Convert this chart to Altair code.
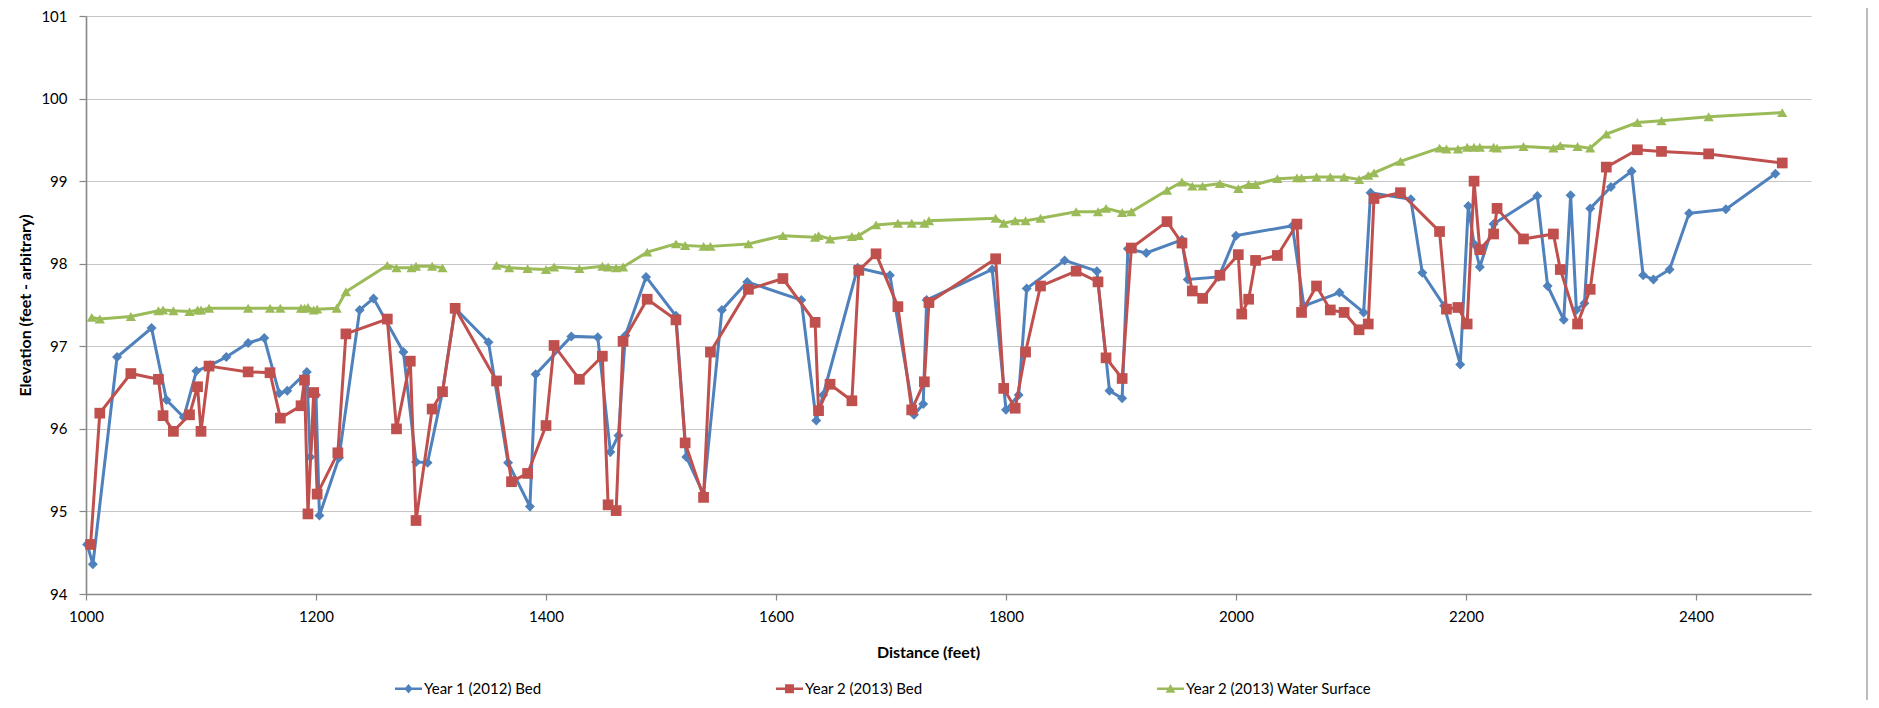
import altair as alt
import pandas as pd

SERIES = ["Year 1 (2012) Bed", "Year 2 (2013) Bed", "Year 2 (2013) Water Surface"]
COLORS = ["#4F81BD", "#C0504D", "#9BBB59"]

# Year 1 (2012) Bed
bed2012_x = [1001, 1006, 1027, 1057, 1070, 1085, 1096, 1108, 1122, 1141, 1155, 1168, 1175, 1192,
             1195, 1200, 1203, 1220, 1238, 1250, 1276, 1287, 1297, 1310, 1321, 1350, 1367, 1386,
             1391, 1422, 1445, 1456, 1463, 1469, 1487, 1513, 1522, 1537, 1553, 1575, 1622, 1635,
             1641, 1671, 1699, 1720, 1728, 1731, 1788, 1800, 1811, 1818, 1851, 1879, 1890, 1901,
             1906, 1922, 1953, 1958, 1985, 2000, 2049, 2059, 2090, 2111, 2117, 2152, 2162, 2181,
             2195, 2202, 2207, 2212, 2224, 2262, 2271, 2285, 2291, 2296, 2303, 2308, 2326, 2344,
             2354, 2363, 2377, 2394, 2426, 2469]
bed2012_y = [94.60, 94.36, 96.87, 97.22, 96.35, 96.14, 96.70, 96.77, 96.87, 97.04, 97.10, 96.43, 96.46, 96.69,
             95.66, 96.41, 94.95, 95.65, 97.44, 97.58, 96.93, 95.60, 95.59, 96.45, 97.46, 97.05, 95.59, 95.06,
             96.66, 97.12, 97.11, 95.72, 95.92, 97.13, 97.84, 97.37, 95.66, 95.21, 97.44, 97.78, 97.56, 96.10,
             96.41, 97.95, 97.86, 96.17, 96.30, 97.56, 97.93, 96.23, 96.41, 97.70, 98.04, 97.91, 96.46, 96.37,
             98.18, 98.13, 98.29, 97.81, 97.84, 98.34, 98.46, 97.49, 97.65, 97.41, 98.86, 98.78, 97.89, 97.49,
             96.78, 98.70, 98.24, 97.96, 98.48, 98.82, 97.73, 97.32, 98.83, 97.44, 97.52, 98.67, 98.93, 99.12,
             97.86, 97.81, 97.93, 98.61, 98.66, 99.09]

# Year 2 (2013) Bed
bed2013_x = [1004, 1012, 1039, 1063, 1067, 1076, 1090, 1097, 1100, 1107, 1141, 1160, 1169, 1187,
             1190, 1193, 1198, 1201, 1219, 1226, 1262, 1270, 1282, 1287, 1301, 1310, 1321, 1357,
             1370, 1384, 1400, 1407, 1429, 1449, 1454, 1461, 1467, 1488, 1513, 1521, 1537, 1543,
             1576, 1606, 1634, 1637, 1647, 1666, 1672, 1687, 1706, 1718, 1729, 1733, 1791, 1798,
             1808, 1817, 1830, 1861, 1880, 1887, 1901, 1909, 1940, 1953, 1962, 1971, 1986, 2002,
             2005, 2011, 2017, 2036, 2053, 2057, 2070, 2082, 2094, 2107, 2115, 2120, 2143, 2177,
             2183, 2193, 2201, 2207, 2212, 2224, 2227, 2250, 2276, 2282, 2297, 2308, 2322, 2349,
             2370, 2411, 2475]
bed2013_y = [94.60, 96.19, 96.67, 96.60, 96.16, 95.97, 96.17, 96.51, 95.97, 96.76, 96.69, 96.68, 96.13, 96.28,
             96.59, 94.97, 96.44, 95.21, 95.71, 97.15, 97.33, 96.00, 96.82, 94.89, 96.24, 96.45, 97.46, 96.58,
             95.36, 95.46, 96.04, 97.01, 96.60, 96.88, 95.08, 95.01, 97.06, 97.57, 97.32, 95.83, 95.17, 96.93,
             97.69, 97.82, 97.29, 96.22, 96.54, 96.34, 97.92, 98.12, 97.48, 96.23, 96.57, 97.53, 98.06, 96.49,
             96.25, 96.93, 97.73, 97.91, 97.78, 96.86, 96.61, 98.19, 98.51, 98.25, 97.67, 97.58, 97.86, 98.11,
             97.39, 97.57, 98.04, 98.10, 98.48, 97.41, 97.73, 97.44, 97.41, 97.20, 97.27, 98.79, 98.86, 98.39,
             97.45, 97.47, 97.27, 99.00, 98.17, 98.36, 98.67, 98.30, 98.36, 97.93, 97.27, 97.69, 99.17, 99.38,
             99.36, 99.33, 99.22]

# Year 2 (2013) Water Surface (two surveyed reaches, gap between them)
water_a_x = [1005, 1012, 1039, 1063, 1067, 1076, 1090, 1097, 1100, 1107, 1141, 1160, 1169, 1187,
             1190, 1193, 1198, 1201, 1218, 1226, 1262, 1270, 1283, 1287, 1301, 1310]
water_a_y = [97.35, 97.33, 97.36, 97.43, 97.44, 97.43, 97.42, 97.44, 97.44, 97.46, 97.46, 97.46, 97.46, 97.46,
             97.46, 97.47, 97.44, 97.45, 97.46, 97.66, 97.98, 97.95, 97.95, 97.97, 97.97, 97.95]
water_b_x = [1357, 1368, 1384, 1400, 1407, 1429, 1449, 1454, 1461, 1467, 1488, 1513, 1521, 1537,
             1543, 1576, 1606, 1634, 1637, 1647, 1666, 1672, 1687, 1706, 1718, 1729, 1733, 1791,
             1798, 1808, 1817, 1830, 1861, 1880, 1887, 1901, 1909, 1940, 1953, 1962, 1971, 1986,
             2002, 2011, 2017, 2036, 2053, 2057, 2070, 2082, 2094, 2107, 2115, 2120, 2143, 2177,
             2183, 2193, 2201, 2207, 2212, 2224, 2227, 2250, 2276, 2282, 2297, 2308, 2322, 2349,
             2370, 2411, 2475]
water_b_y = [97.98, 97.95, 97.94, 97.93, 97.96, 97.94, 97.97, 97.96, 97.95, 97.96, 98.14, 98.24, 98.22, 98.21,
             98.21, 98.24, 98.34, 98.32, 98.34, 98.30, 98.33, 98.34, 98.47, 98.49, 98.49, 98.49, 98.52, 98.55,
             98.49, 98.52, 98.52, 98.55, 98.63, 98.63, 98.67, 98.62, 98.63, 98.89, 98.99, 98.94, 98.94, 98.97,
             98.91, 98.96, 98.96, 99.03, 99.04, 99.04, 99.05, 99.05, 99.05, 99.02, 99.07, 99.10, 99.24, 99.40,
             99.39, 99.39, 99.41, 99.41, 99.41, 99.41, 99.40, 99.42, 99.40, 99.43, 99.42, 99.40, 99.57, 99.71,
             99.73, 99.78, 99.83]

x_ticks = [1000, 1200, 1400, 1600, 1800, 2000, 2200, 2400]
y_ticks = [94, 95, 96, 97, 98, 99, 100, 101]

rows = []
for x, y in zip(bed2012_x, bed2012_y):
    rows.append({"dist": x, "elev": y, "series": SERIES[0], "seg": "a"})
for x, y in zip(bed2013_x, bed2013_y):
    rows.append({"dist": x, "elev": y, "series": SERIES[1], "seg": "a"})
for x, y in zip(water_a_x, water_a_y):
    rows.append({"dist": x, "elev": y, "series": SERIES[2], "seg": "a"})
for x, y in zip(water_b_x, water_b_y):
    rows.append({"dist": x, "elev": y, "series": SERIES[2], "seg": "b"})
df = pd.DataFrame(rows)

FONT = "Lato"

xenc = alt.X("dist:Q", scale=alt.Scale(domain=[1000, 2500], nice=False, zero=False),
             axis=alt.Axis(values=x_ticks, grid=False, title="Distance (feet)", format="d",
                           tickSize=6, labelPadding=9, titleY=58, titleBaseline="middle",
                           titleX=842, labelFlush=False))
yenc = alt.Y("elev:Q", scale=alt.Scale(domain=[94, 101], nice=False, zero=False),
             axis=alt.Axis(values=y_ticks, grid=True, title="Elevation (feet - arbitrary)",
                           tickSize=7, labelPadding=12, titleX=-61, titleBaseline="middle",
                           labelFlush=False))
cscale = alt.Scale(domain=SERIES, range=COLORS)

shapes = ["diamond", "square", "triangle-up"]
sizes = [100, 115, 105]

base = alt.Chart(df)
layers = []
for name, shp, sz in zip(SERIES, shapes, sizes):
    sub = base.transform_filter(alt.datum.series == name)
    layers.append(sub.mark_line(strokeWidth=3).encode(
        x=xenc, y=yenc, color=alt.Color("series:N", scale=cscale, legend=None), detail="seg:N"))
    layers.append(sub.mark_point(filled=True, shape=shp, size=sz, opacity=1, strokeWidth=0).encode(
        x=xenc, y=yenc, color=alt.Color("series:N", scale=cscale, legend=None)))

bar = "M-1,-0.1H1V0.1H-1Z "
legend_paths = [
    bar + "M0,-0.36L0.3,0L0,0.36L-0.3,0Z",
    bar + "M-0.33,-0.33H0.33V0.33H-0.33Z",
    bar + "M0,-0.36L0.36,0.3H-0.36Z",
]
leg = alt.Legend(title=None, orient="none", legendX=309, legendY=659, direction="horizontal",
                 columns=3, gridAlign="all", columnPadding=166, symbolSize=729,
                 symbolStrokeWidth=0, symbolOpacity=1, labelFontSize=15, labelFont=FONT,
                 labelColor="#000000", labelOffset=2, padding=0, labelLimit=400)
legend_layer = base.mark_point(filled=True, opacity=0).encode(
    x=xenc, y=yenc,
    color=alt.Color("series:N", scale=cscale, legend=leg),
    shape=alt.Shape("series:N", scale=alt.Scale(domain=SERIES, range=legend_paths), legend=leg),
)
layers.append(legend_layer)

# chart-area border on the right, as in the original spreadsheet export
border = alt.Chart(pd.DataFrame({"b": [0]})).mark_rule(color="#a6a6a6", strokeWidth=1.5, clip=False).encode(
    x=alt.value(1781), y=alt.value(-8), y2=alt.value(692))
layers.append(border)

chart = alt.layer(*layers).resolve_scale(
    color="independent", shape="independent"
).resolve_legend(
    color="independent", shape="independent"
).properties(
    width=1725, height=578,
    autosize=alt.AutoSizeParams(type="none"),
    padding={"left": 78, "top": 8, "right": 58, "bottom": 106},
).configure_view(stroke=None).configure_axis(
    labelFont=FONT, labelFontSize=15, labelColor="#000000",
    titleFont=FONT, titleFontSize=16, titleFontWeight="bold", titleColor="#000000",
    domainColor="#878787", domainWidth=1.6, tickColor="#878787", tickWidth=1.2,
    gridColor="#c6c6c6", gridWidth=1.2,
)

chart.save("out.html", embed_options={"renderer": "svg", "actions": False})
